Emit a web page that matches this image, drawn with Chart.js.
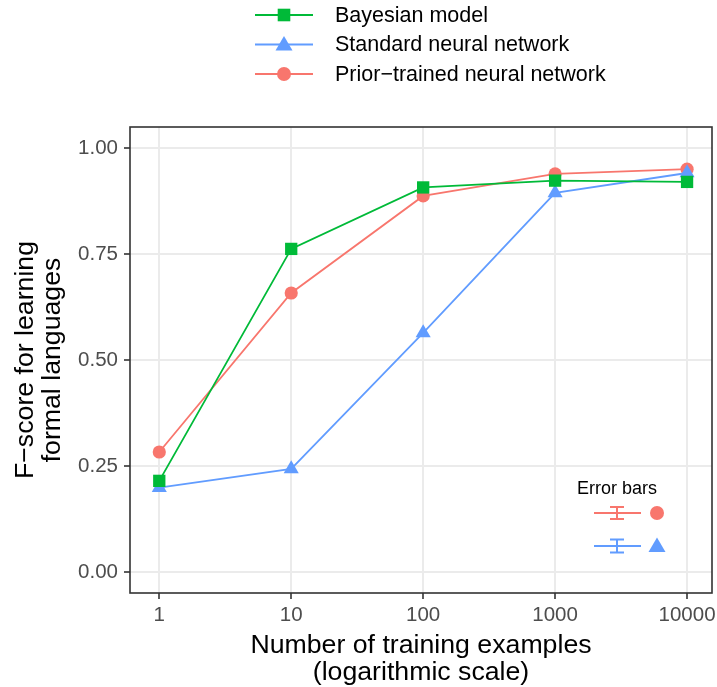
<!DOCTYPE html>
<html lang="en">
<head>
  <meta charset="UTF-8">
  <title>F-score vs training examples</title>
  <script src="https://cdn.jsdelivr.net/npm/chart.js"></script>
  <style>
    * { box-sizing: border-box; }
    body { margin: 0; padding: 0; background: #fff; }
    .wrap { position: relative; width: 717px; height: 687px; }
  </style>
</head>
<body>
  <div class="wrap">
    <canvas id="grafico" width="717" height="687"></canvas>
  </div>

  <script>
    // data
    const examples = [1, 10, 100, 1000, 10000];
    const bayesian = [0.215, 0.762, 0.907, 0.923, 0.920];
    const standardNN = [0.199, 0.243, 0.564, 0.894, 0.941];
    const priorNN = [0.283, 0.658, 0.887, 0.939, 0.950];
    const xTicks = [1, 10, 100, 1000, 10000];
    const yTicks = [0, 0.25, 0.5, 0.75, 1];

    const green = '#00BA38';
    const blue = '#619CFF';
    const red = '#F8766D';
    const fontFam = '"Liberation Sans", Arial, sans-serif';

    // panel box in canvas pixels
    const panel = { left: 130, right: 712, top: 127, bottom: 593 };

    const pts = (ys) => examples.map((x, i) => ({ x: x, y: ys[i] }));

    // pin the panel where the reference has it (the 10000 label may run to the edge)
    const pinPanel = {
      id: 'pinPanel',
      afterLayout(chart) {
        const a = chart.chartArea;
        const x = chart.scales.x;
        const y = chart.scales.y;
        a.left = panel.left; a.right = panel.right;
        a.top = panel.top; a.bottom = panel.bottom;
        a.width = a.right - a.left; a.height = a.bottom - a.top;
        x.left = panel.left; x.right = panel.right; x.width = a.width;
        x.top = panel.bottom; x.bottom = 687; x.height = x.bottom - x.top;
        y.left = 0; y.right = panel.left; y.width = panel.left;
        y.top = panel.top; y.bottom = panel.bottom; y.height = a.height;
        x.configure();
        y.configure();
      }
    };

    // panel box + both legends
    const extras = {
      id: 'extras',
      afterDraw(chart) {
        const ctx = chart.ctx;
        const a = chart.chartArea;
        ctx.save();
        ctx.strokeStyle = '#333333';
        ctx.lineWidth = 1.6;
        ctx.strokeRect(a.left, a.top, a.right - a.left, a.bottom - a.top);

        // top legend
        const rows = [
          { label: 'Bayesian model', color: green, shape: 'rect' },
          { label: 'Standard neural network', color: blue, shape: 'triangle' },
          { label: 'Prior\u2212trained neural network', color: red, shape: 'circle' }
        ];
        rows.forEach((r, i) => {
          const y = 15 + i * 29.5;
          ctx.strokeStyle = r.color;
          ctx.lineWidth = 2;
          ctx.beginPath();
          ctx.moveTo(255, y);
          ctx.lineTo(313, y);
          ctx.stroke();
          marker(ctx, r.shape, 284, y, r.color);
          ctx.fillStyle = '#000';
          ctx.font = '21.5px ' + fontFam;
          ctx.textBaseline = 'middle';
          ctx.fillText(r.label, 335, y + 1);
        });

        // error bar legend
        ctx.fillStyle = '#000';
        ctx.font = '18px ' + fontFam;
        ctx.fillText('Error bars', 577, 489);
        errIcon(ctx, 513, 6, red, 'circle');
        errIcon(ctx, 546, 6.5, blue, 'triangle');
        ctx.restore();
      }
    };

    function marker(ctx, shape, x, y, color) {
      ctx.fillStyle = color;
      ctx.beginPath();
      if (shape === 'rect') {
        ctx.rect(x - 6.3, y - 6.3, 12.6, 12.6);
      } else if (shape === 'triangle') {
        ctx.moveTo(x, y - 8.5);
        ctx.lineTo(x + 8.5, y + 6);
        ctx.lineTo(x - 8.5, y + 6);
        ctx.closePath();
      } else {
        ctx.arc(x, y, 7, 0, Math.PI * 2);
      }
      ctx.fill();
    }

    function errIcon(ctx, y, h, color, shape) {
      ctx.strokeStyle = color;
      ctx.lineWidth = 2;
      ctx.beginPath();
      ctx.moveTo(594, y); ctx.lineTo(641, y);
      ctx.moveTo(617, y - h); ctx.lineTo(617, y + h);
      ctx.moveTo(610, y - h); ctx.lineTo(624, y - h);
      ctx.moveTo(610, y + h); ctx.lineTo(624, y + h);
      ctx.stroke();
      marker(ctx, shape, 657, y, color);
    }

    new Chart(document.getElementById('grafico'), {
      type: 'line',
      data: {
        datasets: [
          {
            label: 'Bayesian model',
            data: pts(bayesian),
            borderColor: green,
            backgroundColor: green,
            borderWidth: 1.8,
            pointStyle: 'rect',
            pointRadius: 8.7,
            pointBorderWidth: 0
          },
          {
            label: 'Standard neural network',
            data: pts(standardNN),
            borderColor: blue,
            backgroundColor: blue,
            borderWidth: 1.8,
            pointStyle: 'triangle',
            pointRadius: 8.7,
            pointBorderWidth: 0
          },
          {
            label: 'Prior-trained neural network',
            data: pts(priorNN),
            borderColor: red,
            backgroundColor: red,
            borderWidth: 1.8,
            pointStyle: 'circle',
            pointRadius: 6.6,
            pointBorderWidth: 0
          }
        ]
      },
      options: {
        responsive: false,
        animation: false,
        layout: { padding: { top: 127, right: 1, left: 0, bottom: 0 } },
        plugins: { legend: { display: false }, tooltip: { enabled: false } },
        scales: {
          x: {
            type: 'logarithmic',
            min: Math.pow(10, -0.204),
            max: Math.pow(10, 4.189),
            afterBuildTicks: (s) => { s.ticks = xTicks.map(v => ({ value: v })); },
            afterFit: (s) => { s.height = 94; },
            ticks: {
              autoSkip: false,
              maxRotation: 0,
              color: '#4D4D4D',
              font: { size: 20.5, family: fontFam },
              padding: 4,
              callback: (v) => String(v)
            },
            grid: { color: '#EBEBEB', lineWidth: 2, tickLength: 6, tickColor: '#333333', tickWidth: 1.6 },
            border: { display: false },
            title: {
              display: true,
              text: ['Number of training examples', '(logarithmic scale)'],
              color: '#000',
              font: { size: 26.7, family: fontFam, lineHeight: 1.02 },
              padding: { top: 8, bottom: 1 }
            }
          },
          y: {
            min: -0.0495,
            max: 1.0495,
            afterBuildTicks: (s) => { s.ticks = yTicks.map(v => ({ value: v })); },
            afterFit: (s) => { s.width = 130; },
            ticks: {
              color: '#4D4D4D',
              font: { size: 20.5, family: fontFam },
              padding: 6,
              callback: (v) => v.toFixed(2)
            },
            grid: { color: '#EBEBEB', lineWidth: 2, tickLength: 6, tickColor: '#333333', tickWidth: 1.6 },
            border: { display: false },
            title: {
              display: true,
              text: ['F\u2212score for learning', 'formal languages'],
              color: '#000',
              font: { size: 26.7, family: fontFam, lineHeight: 1.02 },
              padding: { top: 12, bottom: 6 }
            }
          }
        }
      },
      plugins: [pinPanel, extras]
    });
  </script>
</body>
</html>
